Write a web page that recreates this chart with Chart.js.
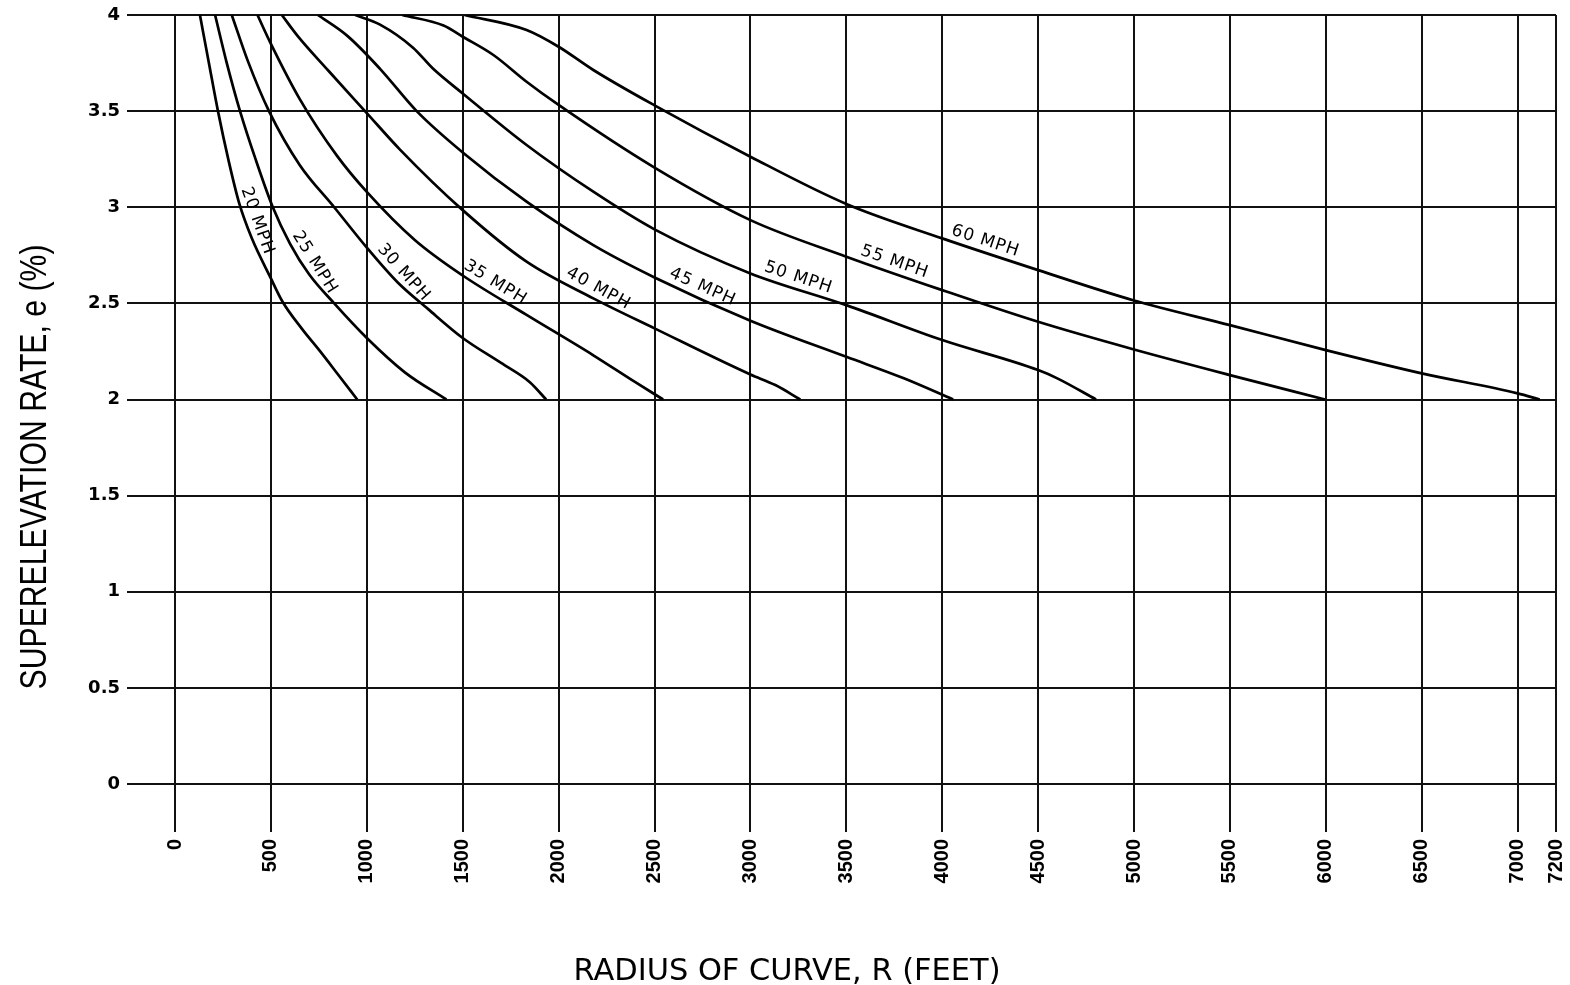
<!DOCTYPE html>
<html>
<head>
<meta charset="utf-8">
<script src="https://cdn.jsdelivr.net/npm/chart.js@4.4.1/dist/chart.umd.min.js"></script>
<style>
  html, body { margin: 0; padding: 0; background: #fff; }
  #wrap { width: 1570px; height: 985px; position: relative; }
</style>
</head>
<body>
<div id="wrap"><canvas id="chart"></canvas></div>
<script>
const speeds = ['20 MPH', '25 MPH', '30 MPH', '35 MPH', '40 MPH', '45 MPH', '50 MPH', '55 MPH', '60 MPH'];

// radius of curve R (ft) and superelevation e (%)
const r20 = [130, 175, 224, 280, 335, 400, 500, 560, 660, 757, 850, 950];
const e20 = [4, 3.76, 3.5, 3.24, 3.02, 2.84, 2.63, 2.51, 2.37, 2.25, 2.13, 2.0];

const r25 = [209, 270, 339, 420, 510, 600, 700, 830, 1000, 1200, 1415];
const e25 = [4, 3.75, 3.5, 3.25, 3.0, 2.81, 2.65, 2.5, 2.32, 2.14, 2.0];

const r30 = [296, 380, 490, 650, 830, 1000, 1160, 1320, 1500, 1700, 1850, 1935];
const e30 = [4, 3.76, 3.5, 3.22, 3.0, 2.79, 2.61, 2.47, 2.32, 2.19, 2.09, 2.0];

const r35 = [430, 500, 652, 843, 1000, 1250, 1500, 1833, 2181, 2400, 2545];
const e35 = [4, 3.85, 3.56, 3.27, 3.08, 2.83, 2.645, 2.44, 2.23, 2.09, 2.0];

const r40 = [557, 640, 800, 1000, 1173, 1500, 1833, 2181, 2500, 3000, 3130, 3260];
const e40 = [4, 3.89, 3.71, 3.49, 3.3, 2.985, 2.717, 2.526, 2.37, 2.13, 2.075, 2.0];

const r45 = [745, 900, 1069, 1260, 1500, 1833, 2181, 2500, 3000, 3500, 3800, 4057];
const e45 = [4, 3.89, 3.72, 3.5, 3.285, 3.029, 2.803, 2.635, 2.41, 2.222, 2.11, 2.0];

const r50 = [940, 1069, 1241, 1346, 1500, 1833, 2181, 2500, 3000, 3500, 4000, 4500, 4600, 4802];
const e50 = [4, 3.95, 3.83, 3.72, 3.592, 3.324, 3.081, 2.885, 2.656, 2.491, 2.309, 2.153, 2.11, 2.0];

const r55 = [1185, 1400, 1500, 1660, 1833, 2000, 2500, 3000, 3500, 4000, 4500, 5000, 5500, 5996];
const e55 = [4, 3.945, 3.887, 3.792, 3.653, 3.532, 3.206, 2.933, 2.743, 2.569, 2.404, 2.26, 2.127, 2.0];

const r60 = [1510, 1833, 2000, 2181, 2500, 3000, 3500, 4000, 4500, 5000, 5500, 6000, 6500, 7000, 7115];
const e60 = [4, 3.922, 3.835, 3.714, 3.53, 3.263, 3.017, 2.838, 2.673, 2.515, 2.387, 2.257, 2.136, 2.032, 2.0];

const xTicks = [0, 500, 1000, 1500, 2000, 2500, 3000, 3500, 4000, 4500, 5000, 5500, 6000, 6500, 7000, 7200];

const xTitle = 'RADIUS OF CURVE, R (FEET)';
const yTitle = 'SUPERELEVATION RATE, e (%)';

// where each speed label sits along its curve (R, ft)
const labelAt = [375, 680, 1150, 1640, 2180, 2727, 3232, 3733, 4207];

const radii = [r20, r25, r30, r35, r40, r45, r50, r55, r60];
const rates = [e20, e25, e30, e35, e40, e45, e50, e55, e60];

const datasets = speeds.map((s, i) => ({
  label: s,
  data: radii[i].map((r, j) => ({ x: r, y: rates[i][j] })),
  borderColor: '#000',
  borderWidth: 2.7,
  pointRadius: 0,
  fill: false,
  cubicInterpolationMode: 'monotone'
}));

const curveLabels = {
  id: 'curveLabels',
  afterDatasetsDraw(chart) {
    const ctx = chart.ctx;
    const xs = chart.scales.x, ys = chart.scales.y;
    ctx.save();
    ctx.fillStyle = '#000';
    ctx.font = '17px "DejaVu Sans"';
    ctx.letterSpacing = '1px';
    ctx.textAlign = 'center';
    ctx.textBaseline = 'middle';
    speeds.forEach((s, i) => {
      const r = radii[i], e = rates[i], at = labelAt[i];
      let j = 1;
      while (j < r.length - 1 && r[j] < at) j++;
      const x0 = xs.getPixelForValue(r[j - 1]), y0 = ys.getPixelForValue(e[j - 1]);
      const x1 = xs.getPixelForValue(r[j]), y1 = ys.getPixelForValue(e[j]);
      const t = (at - r[j - 1]) / (r[j] - r[j - 1]);
      const px = x0 + t * (x1 - x0), py = y0 + t * (y1 - y0);
      const ang = Math.atan2(y1 - y0, x1 - x0);
      ctx.save();
      ctx.translate(px + Math.sin(ang) * 11, py - Math.cos(ang) * 11);
      ctx.rotate(ang);
      ctx.fillText(s, 0, 0);
      ctx.restore();
    });
    ctx.restore();
  },
  afterDraw(chart) {
    const ctx = chart.ctx;
    ctx.save();
    ctx.fillStyle = '#000';
    ctx.textAlign = 'center';
    ctx.textBaseline = 'alphabetic';

    ctx.font = '36px "Liberation Sans"';
    let w = ctx.measureText(yTitle).width;
    ctx.save();
    ctx.translate(46, 467);
    ctx.rotate(-Math.PI / 2);
    ctx.scale(445 / w, 1);
    ctx.fillText(yTitle, 0, 0);
    ctx.restore();

    ctx.font = '31px "DejaVu Sans"';
    w = ctx.measureText(xTitle).width;
    ctx.save();
    ctx.translate(787, 980);
    ctx.scale(427 / w, 1);
    ctx.fillText(xTitle, 0, 0);
    ctx.restore();
    ctx.restore();
  }
};

new Chart(document.getElementById('chart'), {
  type: 'line',
  data: { datasets: datasets },
  options: {
    responsive: true,
    maintainAspectRatio: false,
    animation: false,
    layout: { padding: { top: 15, right: 14, left: 0, bottom: 0 } },
    plugins: {
      legend: { display: false },
      tooltip: { enabled: false }
    },
    scales: {
      x: {
        type: 'linear',
        min: 0,
        max: 7200,
        afterBuildTicks: (scale) => { scale.ticks = xTicks.map(v => ({ value: v })); },
        afterFit: (scale) => { scale.height = 201; scale.paddingLeft = 0; scale.paddingRight = 0; },
        grid: { color: '#111', lineWidth: 2, tickLength: 48, drawTicks: true },
        border: { color: '#111', width: 2 },
        ticks: {
          color: '#000',
          font: { family: 'Liberation Sans', weight: 'bold', size: 20 },
          minRotation: 90,
          maxRotation: 90,
          padding: 7,
          autoSkip: false,
          callback: (v) => String(v)
        }
      },
      y: {
        min: 0,
        max: 4,
        afterFit: (scale) => { scale.width = 175; scale.paddingTop = 0; scale.paddingBottom = 0; },
        grid: { color: '#111', lineWidth: 2, tickLength: 48, drawTicks: true },
        border: { color: '#111', width: 2 },
        ticks: {
          color: '#000',
          stepSize: 0.5,
          font: { family: 'DejaVu Sans', weight: 'bold', size: 18 },
          padding: 7,
          callback: (v) => String(v)
        }
      }
    }
  },
  plugins: [curveLabels]
});
</script>
</body>
</html>
